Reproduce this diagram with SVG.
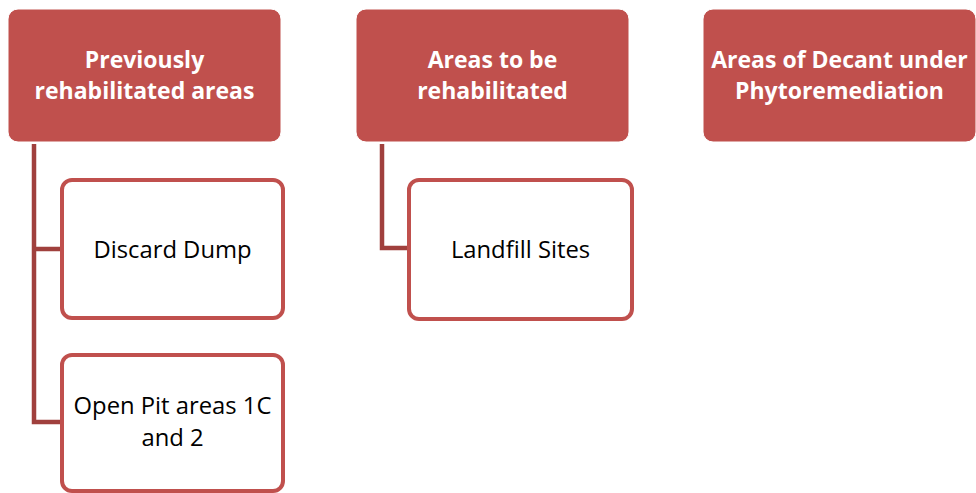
<svg xmlns="http://www.w3.org/2000/svg" width="976" height="493" viewBox="0 0 976 493">
<style>
.hdr{fill:#C0504D;stroke:#ffffff;stroke-width:1}
.chd{fill:#ffffff;stroke:#C0504D;stroke-width:4}
.ht{font-family:"Open Sans","Liberation Sans",sans-serif;font-weight:bold;font-size:23px;fill:#ffffff;text-anchor:middle}
.ct{font-family:"Open Sans","Liberation Sans",sans-serif;font-size:23.8px;fill:#000000;text-anchor:middle}
.con{fill:none;stroke:#A0403D;stroke-width:4.5}
</style>
<rect width="976" height="493" fill="#ffffff"/>
<g id="connectors">
<path class="con" d="M34,144 V249 H62 M34,249 V422 H62"/>
<path class="con" d="M382,144 V248 H409"/>
</g>
<g id="n1">
<rect class="hdr" x="8" y="9" width="273" height="133" rx="10"/>
<text class="ht" x="144.5" y="68">Previously</text>
<text class="ht" x="144.5" y="99">rehabilitated areas</text>
</g>
<g id="n2">
<rect class="hdr" x="356" y="9" width="273" height="133" rx="10"/>
<text class="ht" x="492.5" y="68">Areas to be</text>
<text class="ht" x="492.5" y="99">rehabilitated</text>
</g>
<g id="n3">
<rect class="hdr" x="703" y="9" width="273" height="133" rx="10"/>
<text class="ht" x="839.5" y="68">Areas of Decant under</text>
<text class="ht" x="839.5" y="99">Phytoremediation</text>
</g>
<g id="n4">
<rect class="chd" x="62" y="180" width="221" height="138" rx="10"/>
<text class="ct" x="172.5" y="258">Discard Dump</text>
</g>
<g id="n5">
<rect class="chd" x="62" y="355" width="221" height="136" rx="10"/>
<text class="ct" x="172.5" y="414">Open Pit areas 1C</text>
<text class="ct" x="172.5" y="446">and 2</text>
</g>
<g id="n6">
<rect class="chd" x="409" y="180" width="223" height="139" rx="10"/>
<text class="ct" x="520.5" y="258">Landfill Sites</text>
</g>
</svg>
